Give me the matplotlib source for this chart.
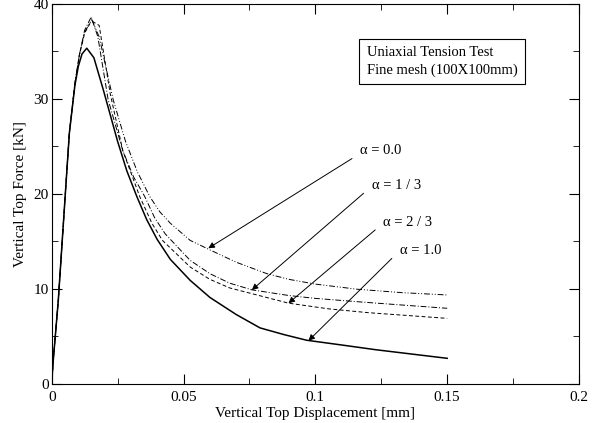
import matplotlib
matplotlib.use("Agg")
import matplotlib.pyplot as plt
from matplotlib.ticker import MultipleLocator

plt.rcParams['font.family'] = ['Liberation Serif', 'DejaVu Serif']

# alpha = 1.0 (solid)
x_a10 = [0, 0.0005, 0.0025, 0.005, 0.0067, 0.0088, 0.0101, 0.0115, 0.0133, 0.016, 0.0196,
         0.025, 0.0285, 0.0323, 0.036, 0.04, 0.045, 0.0525, 0.06, 0.07, 0.079, 0.088,
         0.0967, 0.11, 0.123, 0.135, 0.15]
y_a10 = [0, 2.2, 8.8, 19.3, 26.4, 31.4, 33.4, 34.7, 35.3, 34.3, 30.9,
         25.5, 22.4, 19.7, 17.3, 15.2, 13.1, 10.9, 9.1, 7.3, 5.9, 5.2,
         4.6, 4.1, 3.6, 3.2, 2.7]

# alpha = 0.0 (dash dot dot)
x_a00 = [0, 0.0005, 0.0025, 0.005, 0.0067, 0.0088, 0.0105, 0.0125, 0.0152, 0.018, 0.0233,
         0.028, 0.0325, 0.0372, 0.041, 0.045, 0.0525, 0.06, 0.07, 0.0816, 0.09, 0.1,
         0.116, 0.133, 0.15]
y_a00 = [0, 2.2, 8.8, 19.3, 26.4, 31.6, 34.6, 37.0, 38.3, 36.5, 29.9,
         25.5, 22.3, 19.7, 18.1, 16.9, 15.1, 14.1, 12.8, 11.6, 11.0, 10.5,
         9.96, 9.6, 9.36]

# alpha = 1/3 (dash dot)
x_a13 = [0, 0.0005, 0.0025, 0.005, 0.0067, 0.0088, 0.0105, 0.0125, 0.015, 0.0175, 0.0214,
         0.027, 0.031, 0.0353, 0.039, 0.043, 0.0525, 0.06, 0.0675, 0.0759, 0.09, 0.1,
         0.116, 0.133, 0.15]
y_a13 = [0, 2.2, 8.8, 19.3, 26.4, 31.6, 34.6, 37.2, 38.6, 36.5, 29.9,
         24.5, 21.8, 19.7, 17.5, 15.8, 13.0, 11.6, 10.6, 9.9, 9.3, 9.0,
         8.65, 8.3, 7.96]

# alpha = 2/3 (dashed)
x_a23 = [0, 0.0005, 0.0025, 0.005, 0.0067, 0.0088, 0.0105, 0.0125, 0.0145, 0.0155, 0.018,
         0.0222, 0.027, 0.0334, 0.038, 0.042, 0.0525, 0.06, 0.0675, 0.0759, 0.0898, 0.105,
         0.12, 0.135, 0.15]
y_a23 = [0, 2.2, 8.8, 19.3, 26.4, 31.6, 34.6, 36.9, 37.9, 38.1, 37.7,
         30.5, 24.5, 19.7, 16.9, 15.1, 12.3, 11.0, 10.1, 9.5, 8.5, 7.9,
         7.5, 7.2, 6.9]

fig = plt.figure(figsize=(5.93, 4.23), dpi=100)
ax = fig.add_axes([0.0872, 0.0922, 0.8892, 0.8995])

ax.plot(x_a10, y_a10, color='k', lw=1.1, ls='-')
ax.plot(x_a00, y_a00, color='k', lw=0.7, ls=(0, (6, 2, 1, 2, 1, 2)))
ax.plot(x_a13, y_a13, color='k', lw=0.7, ls=(0, (6, 2, 1, 2)))
ax.plot(x_a23, y_a23, color='k', lw=0.7, ls=(0, (4, 2.5)))

ax.set_xlim(0, 0.2)
ax.set_ylim(0, 40)
ax.xaxis.set_minor_locator(MultipleLocator(0.025))
ax.yaxis.set_major_locator(MultipleLocator(10))
ax.yaxis.set_minor_locator(MultipleLocator(5))
ax.set_xticks([0, 0.05, 0.1, 0.15, 0.2])
ax.set_xticklabels(['0', '0.05', '0.1', '0.15', '0.2'])
ax.tick_params(which='both', direction='in', top=True, right=True, labelsize=11)
ax.tick_params(axis='x', pad=5)
ax.tick_params(axis='y', pad=2)
ax.tick_params(which='major', length=7)
ax.tick_params(which='minor', length=4)

ax.set_xlabel('Vertical Top Displacement [mm]', fontsize=11, labelpad=2)
ax.set_ylabel('Vertical Top Force [kN]', fontsize=11, labelpad=5)

ax.text(0.1194, 33.9, 'Uniaxial Tension Test\nFine mesh (100X100mm)', fontsize=10.5,
        va='center', ha='left', linespacing=1.4,
        bbox=dict(boxstyle='square,pad=0.5', fc='white', ec='k', lw=0.8))

# annotations: label, arrow tip (x, y), text start (x, y)
ann_labels = ['α = 0.0', 'α = 1 / 3', 'α = 2 / 3', 'α = 1.0']
ann_tip = [(0.0594, 14.27), (0.0759, 9.88), (0.0898, 8.49), (0.0974, 4.55)]
ann_from = [(0.1139, 23.7), (0.1183, 20.05), (0.1227, 16.2), (0.129, 13.2)]

for lab, tip, src in zip(ann_labels, ann_tip, ann_from):
    ax.annotate('', xy=tip, xytext=src,
                arrowprops=dict(arrowstyle='-|>', color='k', lw=0.7, mutation_scale=9,
                                shrinkA=0, shrinkB=0))
    ax.text(src[0] + 0.003, src[1] + 0.8, lab, fontsize=10.5, ha='left', va='center')

fig.savefig('out.png', dpi=100)
